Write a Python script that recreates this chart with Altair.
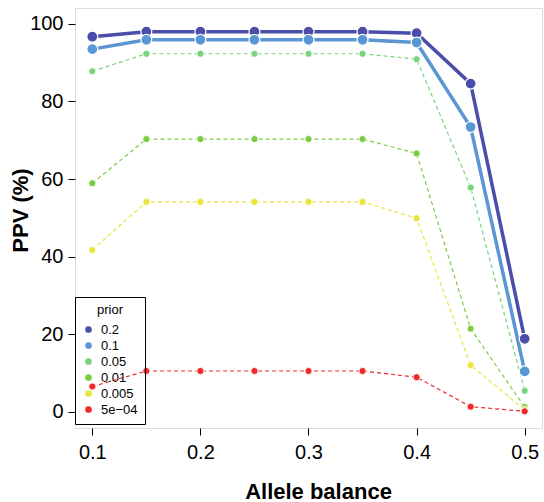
import altair as alt
import pandas as pd

# ---- data ----
allele_balance = [0.1, 0.15, 0.2, 0.25, 0.3, 0.35, 0.4, 0.45, 0.5]
priors = ["0.2", "0.1", "0.05", "0.01", "0.005", "5e\u221204"]
ppv_p020 = [96.7, 98.0, 98.0, 98.0, 98.0, 98.0, 97.6, 84.6, 18.8]
ppv_p010 = [93.5, 95.9, 95.9, 95.9, 95.9, 95.9, 95.2, 73.4, 10.4]
ppv_p005 = [87.8, 92.3, 92.3, 92.3, 92.3, 92.3, 90.9, 57.8, 5.4]
ppv_p001 = [58.9, 70.3, 70.3, 70.3, 70.3, 70.3, 66.6, 21.4, 1.2]
ppv_p0005 = [41.7, 54.1, 54.1, 54.1, 54.1, 54.1, 49.9, 12.0, 0.5]
ppv_p00005 = [6.5, 10.5, 10.5, 10.5, 10.5, 10.5, 8.9, 1.3, 0.1]
colors = ["#4b4ea8", "#5a95d4", "#78d47e", "#7acc40", "#e8e43c", "#ee2a2a"]
styles = ["solid", "solid", "dashed", "dashed", "dashed", "dashed"]

series = [ppv_p020, ppv_p010, ppv_p005, ppv_p001, ppv_p0005, ppv_p00005]
rows = []
for p, s, vals in zip(priors, styles, series):
    for x, v in zip(allele_balance, vals):
        rows.append({"ab": x, "ppv": v, "prior": p, "style": s})
df = pd.DataFrame(rows)

FONT = "Liberation Sans"

x_enc = alt.X(
    "ab:Q",
    scale=alt.Scale(domain=[0.084, 0.516], nice=False, zero=False),
    axis=alt.Axis(
        values=[0.1, 0.2, 0.3, 0.4, 0.5], format=".1f", grid=False, domain=False,
        tickSize=7, tickColor="black", labelFontSize=20, labelFont=FONT,
        labelColor="black", labelPadding=7, title="Allele balance",
        titleFontSize=22, titleFont=FONT, titleFontWeight="bold",
        titleColor="black", titleX=243, titleY=70, titleBaseline="alphabetic",
        titleAnchor="middle",
    ),
)
y_enc = alt.Y(
    "ppv:Q",
    scale=alt.Scale(domain=[-4.2, 104.1], nice=False, zero=False),
    axis=alt.Axis(
        values=[0, 20, 40, 60, 80, 100], grid=False, domain=False,
        tickSize=7, tickColor="black", labelFontSize=20, labelFont=FONT,
        labelColor="black", labelPadding=5, title="PPV (%)",
        titleFontSize=22, titleFont=FONT, titleFontWeight="bold",
        titleColor="black", titleAngle=-90, titleX=-48, titleY=202,
        titleBaseline="alphabetic", titleAlign="center",
    ),
)

base = alt.Chart(df).encode(x=x_enc, y=y_enc)

solid_lines = base.transform_filter(alt.datum.style == "solid").mark_line(
    strokeWidth=3.5
).encode(stroke=alt.Stroke("prior:N", scale=alt.Scale(domain=priors, range=colors), legend=None))

dashed_lines = base.transform_filter(alt.datum.style == "dashed").mark_line(
    strokeWidth=1.2, strokeDash=[4, 3]
).encode(stroke=alt.Stroke("prior:N", scale=alt.Scale(domain=priors, range=colors), legend=None))

big_points = base.transform_filter(alt.datum.style == "solid").mark_circle(
    size=120, opacity=1, stroke="white", strokeWidth=1.2
).encode(fill=alt.Fill("prior:N", scale=alt.Scale(domain=priors, range=colors), legend=None))

small_points = base.transform_filter(alt.datum.style == "dashed").mark_circle(
    size=50, opacity=1, stroke="white", strokeWidth=0.8
).encode(
    color=alt.Color(
        "prior:N", scale=alt.Scale(domain=priors, range=colors), sort=priors,
        legend=alt.Legend(
            title="prior", orient="none", legendX=0, legendY=289,
            direction="vertical", strokeColor="black", fillColor="transparent",
            padding=7, titleFontSize=13, titleFont=FONT, titleFontWeight="normal",
            titleColor="black", titleAnchor="middle", titlePadding=6,
            labelFontSize=13, labelFont=FONT, labelColor="black",
            symbolType="circle", symbolSize=45, symbolStrokeWidth=0,
            rowPadding=2, labelOffset=6, cornerRadius=0,
        ),
    )
)

chart = (
    alt.layer(solid_lines, dashed_lines, big_points, small_points)
    .resolve_scale(color="independent")
    .properties(
        width=467, height=420,
        autosize=alt.AutoSizeParams(type="none"),
        padding={"left": 75, "top": 8, "right": 2, "bottom": 74},
    )
    .configure_view(stroke="black", strokeWidth=1.2)
    .configure(background="white")
)

chart.save("out.html", embed_options={"renderer": "svg", "actions": False})
